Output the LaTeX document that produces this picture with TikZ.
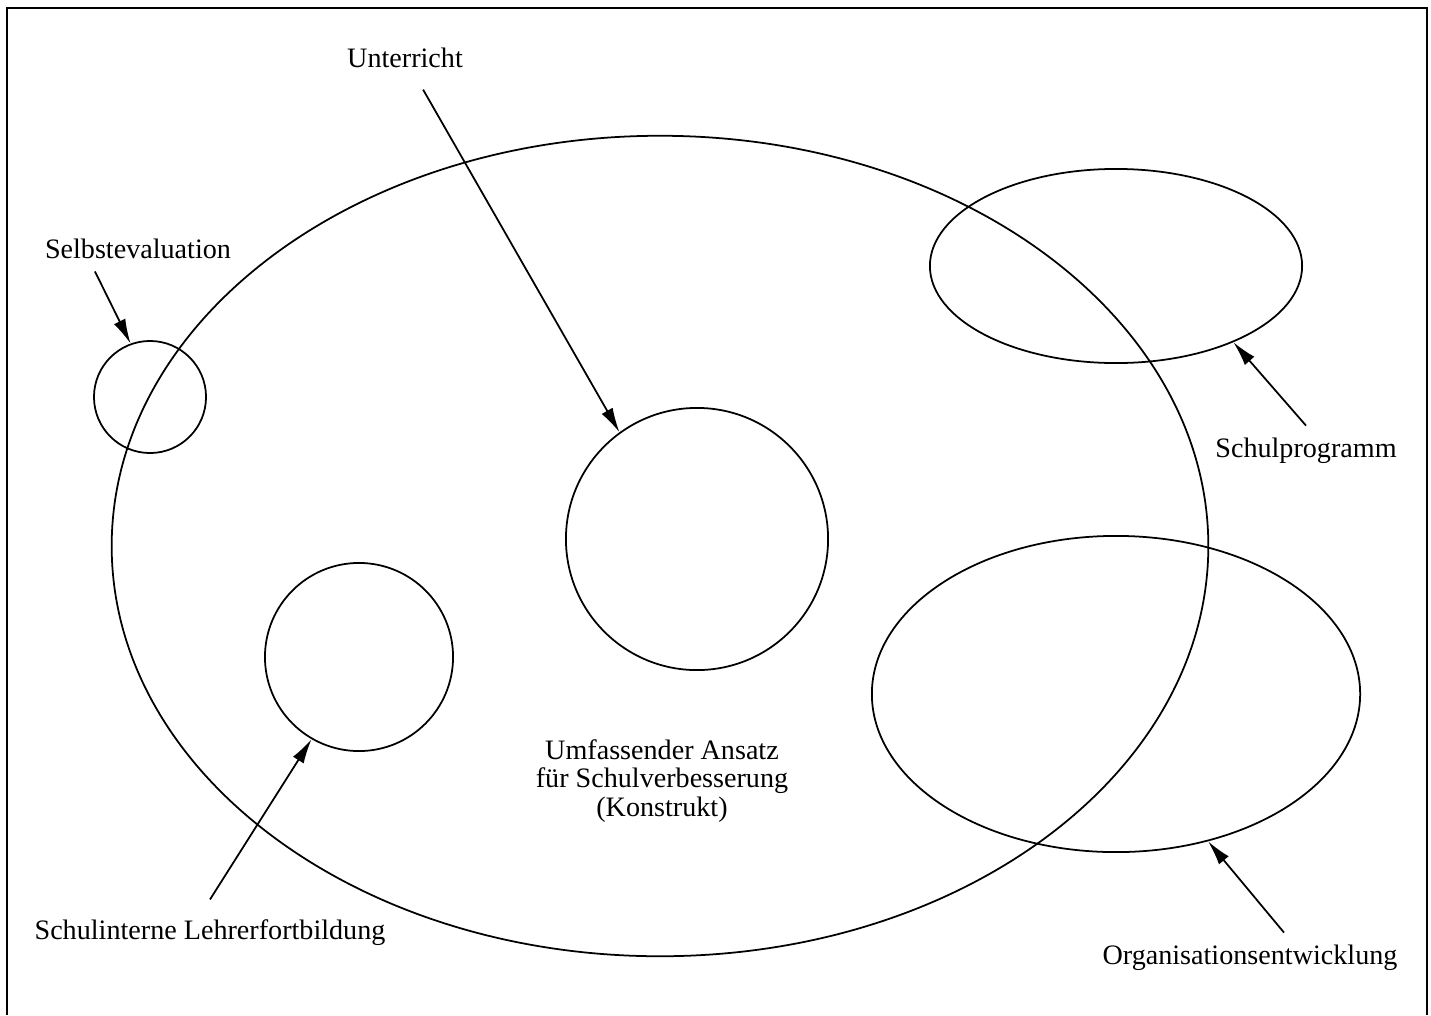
\documentclass[tikz,border=0pt]{standalone}
\usepackage{fontspec}
\setmainfont{Liberation Serif}
\usetikzlibrary{shapes.geometric}
\usetikzlibrary{arrows.meta}

\begin{document}
\begin{tikzpicture}[x=0.01cm,y=-0.01cm,line width=0.5pt,
  every node/.style={font=\fontsize{8}{8.1}\selectfont},
  ring/.style={draw,circle,inner sep=0pt},
  oval/.style={draw,ellipse,inner sep=0pt},
  pointer/.style={-{Latex[length=7pt,width=3.6pt]}}]
  \useasboundingbox (0,0) rectangle (1431,1015);
  \draw (7,1015)--(7,8)--(1427,8)--(1427,1015);
  % the construct
  \node[oval,minimum width=10.96cm,minimum height=8.2cm] (konstrukt) at (660,546){};
  \node[align=center] (ansatz) at (662,781){Umfassender Ansatz\\f\"ur Schulverbesserung\\(Konstrukt)};
  % parts
  \node[ring,minimum size=1.12cm] (selbst) at (150,397){};
  \node[ring,minimum size=2.62cm] (unterricht) at (697,539){};
  \node[ring,minimum size=1.88cm] (fortbildung) at (359,657){};
  \node[oval,minimum width=3.72cm,minimum height=1.94cm] (programm) at (1116,266){};
  \node[oval,minimum width=4.88cm,minimum height=3.16cm] (oe) at (1116,694){};
  % labels
  \node (lblU) at (405,58){Unterricht};
  \node (lblS) at (138,249){Selbstevaluation};
  \node (lblP) at (1306,451){Schulprogramm};
  \node (lblO) at (1250,958){Organisationsentwicklung};
  \node (lblL) at (210,933){Schulinterne Lehrerfortbildung};
  \draw[pointer,shorten <=3pt](lblU)--(unterricht.126);
  \draw[pointer]([xshift=-4.3mm]lblS.south)--(selbst.110);
  \draw[pointer](lblP.north)--(programm.-33);
  \draw[pointer]([xshift=3.4mm]lblO.north)--(oe.-58);
  \draw[pointer]([yshift=0.8mm]lblL.north)--(fortbildung.240);
\end{tikzpicture}
\end{document}
